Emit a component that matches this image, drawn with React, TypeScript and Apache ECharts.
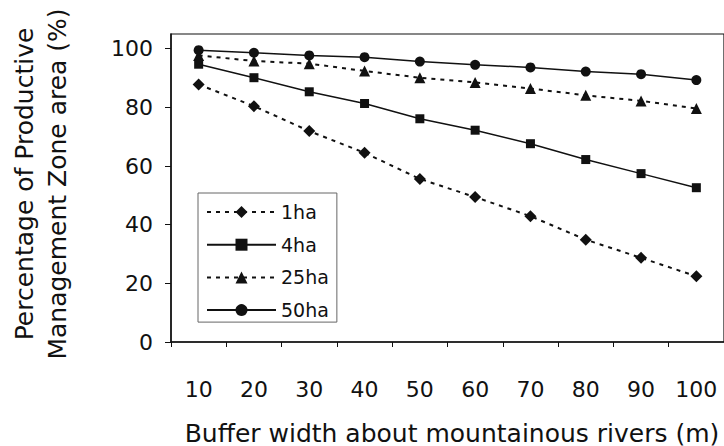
import React, { useEffect, useRef } from "react";
import * as echarts from "echarts";

const categories = ["10", "20", "30", "40", "50", "60", "70", "80", "90", "100"];
const s1ha = [87.8, 80.4, 71.9, 64.5, 55.6, 49.4, 42.9, 34.9, 28.7, 22.4];
const s4ha = [94.7, 90.1, 85.3, 81.3, 76.1, 72.2, 67.6, 62.2, 57.4, 52.6];
const s25ha = [97.7, 95.8, 94.9, 92.4, 90.1, 88.5, 86.4, 84.1, 82.2, 79.6];
const s50ha = [99.5, 98.6, 97.7, 97.1, 95.6, 94.5, 93.6, 92.2, 91.3, 89.3];
const yTicks = [0, 20, 40, 60, 80, 100];
const xTitle = "Buffer width about mountainous rivers (m)";
const yTitle = "Percentage of Productive\nManagement Zone area (%)";

const FONT = "DejaVu Sans";
const INK = "#111";

export default function App() {
  const ref = useRef<HTMLDivElement>(null);
  useEffect(() => {
    if (!ref.current) return;
    const chart = echarts.init(ref.current, undefined, { renderer: "svg" });
    const dashed = { color: INK, width: 2, type: [4, 5] as any };
    const solid = { color: INK, width: 1.5, type: "solid" as any };
    chart.setOption({
      animation: false,
      backgroundColor: "#fff",
      grid: {
        left: 171,
        top: 34,
        right: -5,
        bottom: 104,
        show: true,
        borderColor: INK,
        borderWidth: 1.2,
        backgroundColor: "transparent",
      },
      legend: {
        orient: "vertical",
        left: 198,
        top: 193,
        padding: [9, 8, 2, 8],
        itemWidth: 69,
        itemHeight: 15,
        itemGap: 12.7,
        borderColor: "#666",
        borderWidth: 1,
        backgroundColor: "#fff",
        textStyle: { fontFamily: FONT, fontSize: 19, color: INK, lineHeight: 20 },
        data: ["1ha", "4ha", "25ha", "50ha"],
      },
      xAxis: {
        type: "category",
        data: categories,
        boundaryGap: true,
        axisLine: { show: true, lineStyle: { color: INK, width: 1.5 } },
        axisTick: { show: true, length: 5, lineStyle: { color: INK, width: 1 } },
        axisLabel: { fontFamily: FONT, fontSize: 22, color: INK, margin: 36 },
        splitLine: { show: false },
      },
      yAxis: {
        type: "value",
        min: 0,
        max: 105,
        axisLine: { show: true, lineStyle: { color: INK, width: 1.5 } },
        axisTick: { show: true, length: 6, customValues: yTicks, lineStyle: { color: INK, width: 1 } },
        axisLabel: { fontFamily: FONT, fontSize: 22, color: INK, margin: 18, customValues: yTicks },
        splitLine: { show: false },
      },
      graphic: [
        {
          type: "text",
          x: 41,
          y: 184,
          rotation: Math.PI / 2,
          style: {
            text: yTitle,
            fontFamily: FONT,
            fontSize: 25,
            lineHeight: 33,
            fill: INK,
            textAlign: "center",
            textVerticalAlign: "middle",
          },
        },
        {
          type: "text",
          x: 452,
          y: 433,
          style: {
            text: xTitle,
            fontFamily: FONT,
            fontSize: 25,
            fill: INK,
            textAlign: "center",
            textVerticalAlign: "middle",
          },
        },
      ],
      series: [
        {
          name: "1ha",
          type: "line",
          data: s1ha,
          symbol: "diamond",
          symbolSize: 12,
          itemStyle: { color: INK },
          lineStyle: dashed,
        },
        {
          name: "4ha",
          type: "line",
          data: s4ha,
          symbol: "rect",
          symbolSize: 9,
          itemStyle: { color: INK },
          lineStyle: solid,
        },
        {
          name: "25ha",
          type: "line",
          data: s25ha,
          symbol: "triangle",
          symbolSize: 11,
          itemStyle: { color: INK },
          lineStyle: dashed,
        },
        {
          name: "50ha",
          type: "line",
          data: s50ha,
          symbol: "circle",
          symbolSize: 10,
          itemStyle: { color: INK },
          lineStyle: solid,
        },
      ],
    });
    return () => chart.dispose();
  }, []);
  return <div ref={ref} style={{ position: "fixed", left: 0, top: 0, width: 724, height: 446 }} />;
}
